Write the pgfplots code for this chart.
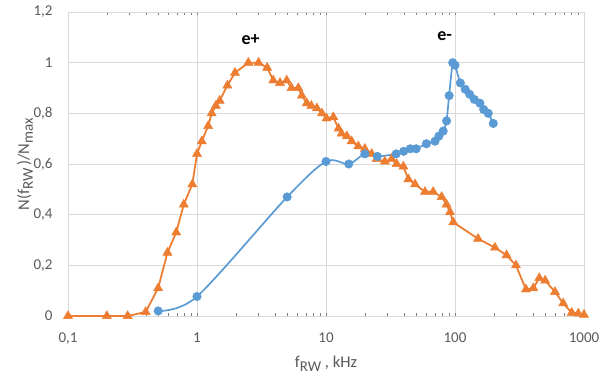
\documentclass[border=0pt]{standalone}
\usepackage{pgfplots}
\pgfplotsset{compat=1.18}
\usepackage{fontspec}
\setmainfont{Carlito}
\definecolor{eorange}{HTML}{ED7D31}
\definecolor{eblue}{HTML}{5B9BD5}
\definecolor{gridc}{HTML}{D9D9D9}
\definecolor{tickc}{HTML}{595959}
\newcommand\sub[1]{\raisebox{-0.45ex}{\fontsize{15}{16}\selectfont #1}}
\begin{document}
\begin{tikzpicture}
\path[use as bounding box] (0,0) rectangle (602pt,377pt);
\begin{axis}[
  at={(68pt,61pt)}, anchor=south west,
  scale only axis, width=516pt, height=304pt,
  xmode=log, xmin=0.1, xmax=1000, ymin=0, ymax=1.2,
  xtick={0.1,1,10,100,1000}, xticklabels={{0,1},1,10,100,1000},
  ytick={0,0.2,0.4,0.6,0.8,1,1.2},
  yticklabels={0,{0,2},{0,4},{0,6},{0,8},1,{1,2}},
  minor xtick={}, log ticks with fixed point,
  grid=major, major grid style={gridc, line width=0.8pt},
  axis line style={gridc, line width=0.8pt},
  major tick length=0pt,
  ticklabel style={font=\fontsize{15}{16}\selectfont, text=tickc},
  xticklabel style={yshift=-13pt},
  yticklabel style={xshift=-12pt},
  xlabel={f\sub{RW} , kHz},
  ylabel={N(f\sub{RW}\,)/N\sub{max}},
  label style={font=\fontsize{16.5}{18}\selectfont, text=tickc},
  xlabel style={at={(axis description cs:0.5,0)}, anchor=center, yshift=-48pt},
  ylabel style={at={(axis description cs:0,0.5)}, anchor=center, yshift=43pt},
  clip=false,
]
\addplot[eorange, line width=1.8pt, mark=triangle*, mark size=5.3pt, mark options={fill=eorange, line width=0.4pt}] coordinates {
(0.1,0) (0.2,0) (0.29,0) (0.40,0.016) (0.5,0.11) (0.59,0.25) (0.69,0.33) (0.79,0.44) (0.92,0.52)
(1,0.64) (1.09,0.69) (1.22,0.75) (1.3,0.80) (1.4,0.83) (1.5,0.85) (1.72,0.91) (1.97,0.96)
(2.5,1.0) (3.0,1.0) (3.5,0.98) (3.9,0.93) (4.4,0.92) (4.96,0.93) (5.4,0.90) (6.1,0.90)
(6.5,0.87) (7.1,0.84) (7.7,0.83) (8.5,0.82) (9.3,0.80) (10.1,0.78) (11.4,0.785) (12.5,0.74)
(13.2,0.72) (14.5,0.71) (15.8,0.69) (17.8,0.67) (20,0.66) (22.6,0.64) (24.7,0.62) (28.6,0.61)
(32.3,0.62) (35.3,0.60) (39.8,0.59) (43.5,0.54) (49,0.52) (58.5,0.49) (67.7,0.49) (78.8,0.47)
(86,0.44) (91.5,0.41) (97,0.37) (151,0.305) (204,0.27) (251,0.24) (297,0.20) (355,0.105)
(405,0.11) (450,0.15) (500,0.14) (596,0.095) (690,0.05) (803,0.013) (903,0.01) (1000,0.005)
};
\addplot[eblue, line width=1.7pt, smooth, tension=0.5, mark=*, mark size=4.3pt, mark options={fill=eblue, line width=0.4pt}] coordinates {
(0.5,0.02) (1,0.077) (5,0.47) (10,0.61) (15,0.60) (20,0.64) (25,0.63) (35,0.64) (40,0.65)
(45,0.66) (50,0.66) (60,0.68) (70,0.69) (75,0.71) (81,0.73) (86,0.77) (90,0.87) (96,1.0)
(100,0.99) (110,0.92) (120,0.895) (130,0.875) (141,0.855) (156,0.84) (167,0.815) (181,0.80) (198,0.76)
};
\node[font=\bfseries\fontsize{18}{20}\selectfont] at (axis cs:2.6,1.09) {e+};
\node[font=\bfseries\fontsize{18}{20}\selectfont] at (axis cs:83,1.105) {e-};
\end{axis}
\end{tikzpicture}
\end{document}
